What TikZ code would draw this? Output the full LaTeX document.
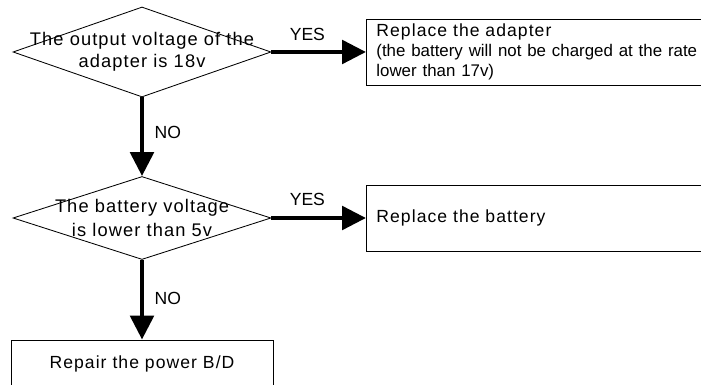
\documentclass[tikz,border=0pt]{standalone}
\usepackage{fontspec}
\setmainfont{Liberation Sans}
\newfontfamily\spacedfont[LetterSpace=6]{Liberation Sans}
\usetikzlibrary{shapes.geometric,arrows.meta}

\begin{document}
\begin{tikzpicture}[
        decision/.style={diamond, draw, line width=0.6pt, inner sep=0pt, minimum width=6.45cm, minimum height=2.25cm},
        decisiontext/.style={align=center, inner sep=0pt, font=\fontsize{13}{15.6}\spacedfont},
        actionbox/.style={rectangle, draw, line width=0.6pt, anchor=west, minimum height=1.65cm, inner xsep=0.25cm, text width=8.35cm, align=left, font=\fontsize{12.5}{14.2}\spacedfont},
        repairbox/.style={rectangle, draw, line width=0.6pt, minimum width=6.55cm, minimum height=1.2cm, font=\fontsize{12.5}{14.2}\spacedfont},
        flow/.style={line width=3.3pt, -{Triangle[length=17pt,width=16.5pt]}},
        answer/.style={font=\fontsize{12.5}{15}\selectfont}
    ]
        \useasboundingbox (0,0) rectangle (17.525,-9.625);

        % Define nodes
        \node[decision] (Q1) at (3.55,-1.3) {};
        \node[decisiontext] (T1) at (Q1.center) {The output voltage of the\\adapter is 18v};
        \node[actionbox] (R1) at (9.15,-1.3) {Replace the adapter\\\normalfont\fontsize{12}{14.2}\selectfont(the battery will not be charged at the rate\\lower than 17v)};

        \node[decision, minimum height=2.075cm] (Q2) at (3.55,-5.45) {};
        \node[decisiontext, font=\fontsize{13}{17}\spacedfont] (T2) at (Q2.center) {The battery voltage\\is lower than 5v};
        \node[actionbox] (R2) at (9.15,-5.45) {Replace the battery};

        \node[repairbox] (R3) at (3.55,-9.1) {Repair the power B/D};

        % Connect decisions to actions
        \draw[flow] (Q1.east) -- (R1.west) node[answer, above=3pt, pos=0.38] {YES};
        \draw[flow] (Q2.east) -- (R2.west) node[answer, above=4pt, pos=0.38] {YES};

        % Connect decisions downward
        \draw[flow] (Q1.south) -- (Q2.north) node[answer, right=4pt, pos=0.45] {NO};
        \draw[flow] (Q2.south) -- (R3.north) node[answer, right=4pt, pos=0.48] {NO};
    \end{tikzpicture}
\end{document}
